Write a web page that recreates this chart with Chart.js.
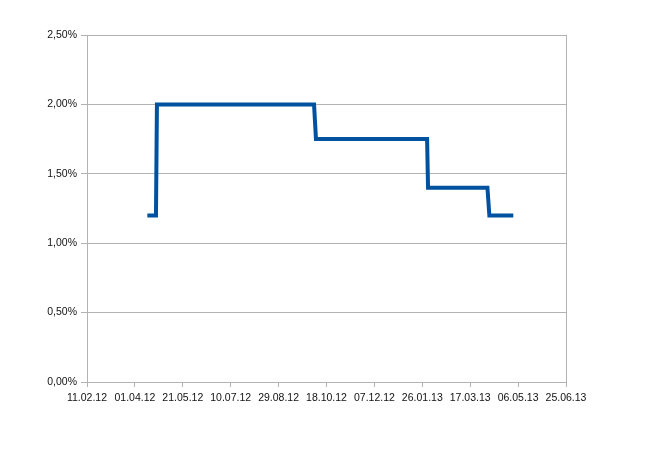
<!DOCTYPE html>
<html>
<head>
<meta charset="utf-8">
<script src="https://cdn.jsdelivr.net/npm/chart.js@4.4.1/dist/chart.umd.min.js"></script>
<style>
  html, body { margin: 0; padding: 0; background: #fff; }
  #wrap { width: 648px; height: 462px; }
</style>
</head>
<body>
<div id="wrap"><canvas id="chart"></canvas></div>
<script>
// step points of the rate (dd.mm.yy) and value in %
const dates = ['14.04.12', '23.04.12', '24.04.12', '05.10.12', '07.10.12', '31.01.13', '01.02.13', '04.04.13', '06.04.13', '01.05.13'];
const rates = [1.2, 1.2, 2.0, 2.0, 1.75, 1.75, 1.4, 1.4, 1.2, 1.2];

const tickLabels = ['11.02.12', '01.04.12', '21.05.12', '10.07.12', '29.08.12', '18.10.12', '07.12.12', '26.01.13', '17.03.13', '06.05.13', '25.06.13'];
const yTicks = [0, 0.5, 1.0, 1.5, 2.0, 2.5];

const DAY = 86400000;
const toTime = s => {
  const [d, m, y] = s.split('.').map(Number);
  return Date.UTC(2000 + y, m - 1, d);
};
const start = toTime(tickLabels[0]);
const dayOf = s => Math.round((toTime(s) - start) / DAY);

const points = dates.map((d, i) => ({ x: dayOf(d), y: rates[i] }));
const lastDay = dayOf(tickLabels[tickLabels.length - 1]);
const step = lastDay / (tickLabels.length - 1);

const gridColor = '#b3b3b3';
const font = { family: 'Liberation Sans, Arial, sans-serif', size: 10.5 };

new Chart(document.getElementById('chart'), {
  type: 'line',
  data: {
    datasets: [{
      label: 'Zinssatz',
      data: points,
      borderColor: '#0052a0',
      backgroundColor: '#0052a0',
      borderWidth: 4,
      pointRadius: 0,
      tension: 0,
      fill: false
    }]
  },
  options: {
    responsive: true,
    maintainAspectRatio: false,
    animation: false,
    layout: { padding: { top: 35, right: 82, left: 0, bottom: 0 } },
    plugins: { legend: { display: false }, tooltip: { enabled: false } },
    scales: {
      x: {
        type: 'linear',
        min: 0,
        max: lastDay,
        afterBuildTicks: s => { s.ticks = tickLabels.map((_, i) => ({ value: i * step })); },
        afterFit: s => { s.height = 80; },
        ticks: {
          color: '#111',
          font: font,
          maxRotation: 0,
          autoSkip: false,
          padding: 5,
          callback: v => tickLabels[Math.round(v / step)]
        },
        grid: { drawOnChartArea: false, drawTicks: true, tickLength: 5, color: gridColor },
        border: { color: gridColor }
      },
      y: {
        min: 0,
        max: 2.5,
        afterBuildTicks: s => { s.ticks = yTicks.map(v => ({ value: v })); },
        afterFit: s => { s.width = 87; },
        ticks: {
          color: '#111',
          font: font,
          padding: 4,
          callback: v => v.toFixed(2).replace('.', ',') + '%'
        },
        grid: { color: gridColor, tickLength: 6 },
        border: { color: gridColor }
      },
      y2: {
        position: 'right',
        min: 0,
        max: 2.5,
        ticks: { display: false },
        grid: { display: false },
        border: { display: true, color: gridColor },
        afterFit: s => { s.width = 0; }
      }
    }
  }
});
</script>
</body>
</html>
